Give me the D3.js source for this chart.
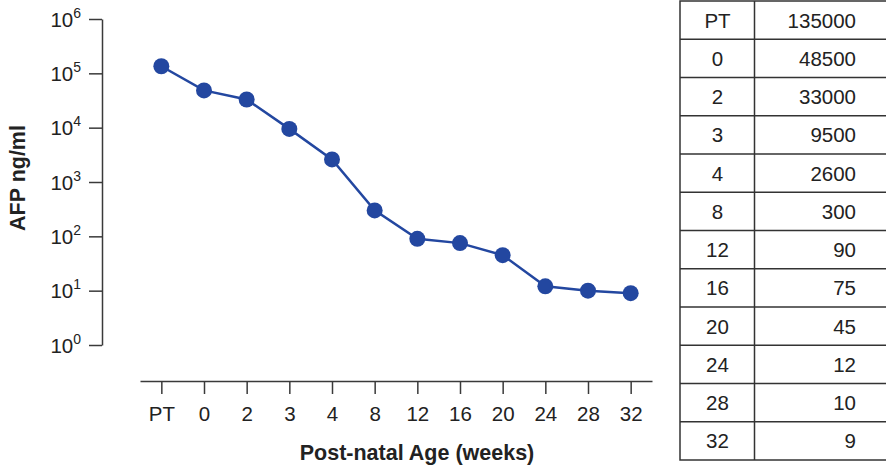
<!DOCTYPE html>
<html>
<head>
    <meta charset="UTF-8">
    <title>AFP by post-natal age</title>
    <style>
        body {
            margin: 0;
            background: #fff;
            font-family: 'Liberation Sans', Arial, Helvetica, sans-serif;
        }

        .axis path,
        .axis line {
            stroke: #3a3a3a;
            stroke-width: 1.5;
        }

        .axis text,
        .ylab {
            font-size: 20.5px;
            fill: #222;
        }

        .title {
            font-size: 21.5px;
            font-weight: bold;
            fill: #222;
        }

        .cell {
            font-size: 20.5px;
            fill: #222;
        }
    </style>
</head>
<body>
    <script src="https://cdn.jsdelivr.net/npm/d3@7"></script>
    <script>
        /// data
        var ages = ["PT", "0", "2", "3", "4", "8", "12", "16", "20", "24", "28", "32"];
        var afp = [135000, 48500, 33000, 9500, 2600, 300, 90, 75, 45, 12, 10, 9];
        var yPowers = [0, 1, 2, 3, 4, 5, 6];

        var width = 886,
            height = 468;
        var lineColor = "#2347a0";

        var svg = d3.select("body").append("svg")
            .attr("width", width)
            .attr("height", height);

        // scales
        var x = d3.scalePoint()
            .domain(ages)
            .range([140, 652])
            .padding(0.5);
        var y = d3.scaleLog()
            .domain([1, 1e6])
            .range([345, 19]);

        // y axis, labels drawn by hand for the superscripts
        svg.append("g")
            .attr("class", "axis")
            .attr("transform", "translate(102,0)")
            .call(d3.axisLeft(y)
                .tickValues(yPowers.map(function(p) { return Math.pow(10, p); }))
                .tickSize(13)
                .tickSizeOuter(0)
                .tickFormat(""));

        var ylab = svg.append("g").selectAll("text")
            .data(yPowers)
            .enter().append("text")
            .attr("class", "ylab")
            .attr("text-anchor", "end")
            .attr("x", 81)
            .attr("y", function(p) { return y(Math.pow(10, p)) + 7.5; });
        ylab.append("tspan").text("10");
        ylab.append("tspan")
            .attr("dy", -9)
            .style("font-size", "14px")
            .text(function(p) { return p; });

        // x axis
        svg.append("g")
            .attr("class", "axis")
            .attr("transform", "translate(0,381)")
            .call(d3.axisBottom(x)
                .tickSize(13)
                .tickSizeOuter(0)
                .tickPadding(12));
        svg.selectAll(".axis text").attr("fill", "#222");

        // axis titles
        svg.append("text")
            .attr("class", "title")
            .attr("text-anchor", "middle")
            .attr("x", 417)
            .attr("y", 460)
            .text("Post-natal Age (weeks)");
        svg.append("text")
            .attr("class", "title")
            .attr("text-anchor", "middle")
            .attr("transform", "translate(25,178) rotate(-90)")
            .text("AFP ng/ml");

        // line + dots
        var line = d3.line()
            .x(function(d, i) { return x(ages[i]); })
            .y(function(d) { return y(d); });
        svg.append("path")
            .datum(afp)
            .attr("d", line)
            .attr("fill", "none")
            .attr("stroke", lineColor)
            .attr("stroke-width", 2.5);
        svg.append("g").selectAll("circle")
            .data(afp)
            .enter().append("circle")
            .attr("cx", function(d, i) { return x(ages[i]); })
            .attr("cy", function(d) { return y(d); })
            .attr("r", 8)
            .attr("fill", lineColor);

        // table on the right
        var tLeft = 680, tMid = 754.5, tRight = 890, tTop = 1, rowH = 38.25;
        var table = svg.append("g");
        table.append("rect")
            .attr("x", tLeft).attr("y", tTop)
            .attr("width", tRight - tLeft).attr("height", rowH * ages.length)
            .attr("fill", "none").attr("stroke", "#333").attr("stroke-width", 1.5);
        table.append("line")
            .attr("x1", tMid).attr("x2", tMid)
            .attr("y1", tTop).attr("y2", tTop + rowH * ages.length)
            .attr("stroke", "#333").attr("stroke-width", 1.5);
        table.selectAll(".rowline")
            .data(ages.slice(1))
            .enter().append("line")
            .attr("x1", tLeft).attr("x2", tRight)
            .attr("y1", function(d, i) { return tTop + rowH * (i + 1); })
            .attr("y2", function(d, i) { return tTop + rowH * (i + 1); })
            .attr("stroke", "#333").attr("stroke-width", 1.5);
        table.selectAll(".agecell")
            .data(ages)
            .enter().append("text")
            .attr("class", "cell")
            .attr("text-anchor", "middle")
            .attr("x", 717.5)
            .attr("y", function(d, i) { return tTop + rowH * i + 26.5; })
            .text(function(d) { return d; });
        table.selectAll(".valcell")
            .data(afp)
            .enter().append("text")
            .attr("class", "cell")
            .attr("text-anchor", "end")
            .attr("x", 856)
            .attr("y", function(d, i) { return tTop + rowH * i + 26.5; })
            .text(function(d) { return d; });
    </script>
</body>
</html>
